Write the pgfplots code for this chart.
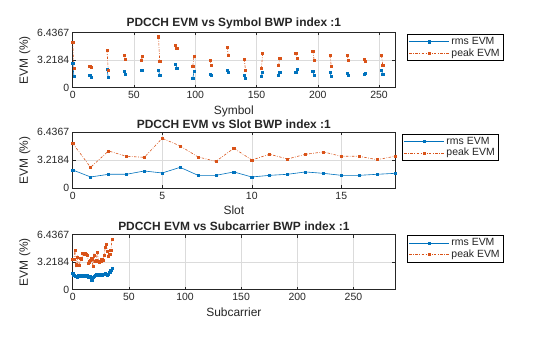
\documentclass[border=0pt]{standalone}
\usepackage{fontspec}
\setmainfont{Liberation Sans}
\usepackage{pgfplots}
\usepackage{pgfplotstable}
\pgfplotsset{compat=1.18}
\definecolor{mblue}{rgb}{0,0.447,0.741}
\definecolor{morange}{rgb}{0.85,0.325,0.098}
\definecolor{maxis}{rgb}{0.15,0.15,0.15}

\pgfplotstableread{
x rms peak
0 2.85 5.31
1 1.37 2.26
7 nan nan
14 1.48 2.54
15 1.25 2.38
21 nan nan
28 2.15 4.37
29 1.21 2.07
35 nan nan
42 1.95 3.82
43 1.56 3.32
49 nan nan
56 2.03 3.20
57 2.03 3.67
63 nan nan
70 2.03 5.93
71 1.44 3.08
77 nan nan
84 2.77 4.99
85 2.30 4.60
91 nan nan
98 1.09 2.54
99 1.91 3.67
105 nan nan
112 1.56 3.20
113 1.44 2.61
119 nan nan
126 2.03 4.72
127 1.83 3.78
133 nan nan
140 1.44 3.32
141 1.05 2.03
147 nan nan
154 1.37 2.26
155 1.83 4.02
161 nan nan
168 1.40 2.61
169 1.79 3.43
175 nan nan
182 1.79 4.02
183 2.15 3.43
189 nan nan
196 1.91 4.29
197 1.40 3.20
203 nan nan
210 1.79 3.74
211 1.29 2.50
217 nan nan
224 1.68 3.74
225 1.48 3.20
231 nan nan
238 1.52 3.32
239 1.64 3.08
245 nan nan
252 2.03 3.74
253 1.56 2.61
}\symboldata

\pgfplotstableread{
x rms peak
0 2.11 5.17
1 1.30 2.41
2 1.61 4.29
3 1.61 3.68
4 1.99 3.56
5 1.76 5.75
6 2.41 4.87
7 1.49 3.60
8 1.49 3.10
9 1.88 4.60
10 1.30 3.26
11 1.49 3.91
12 1.61 3.37
13 1.88 3.91
14 1.72 4.18
15 1.49 3.68
16 1.49 3.68
17 1.61 3.29
18 1.72 3.68
}\slotdata

\pgfplotstableread{
x rms peak
0 1.90 3.55
1 1.70 3.50
2 1.55 4.60
3 1.60 2.90
4 1.50 3.80
5 1.62 2.88
6 1.55 2.85
7 1.72 3.70
8 1.65 3.60
9 1.58 4.25
10 1.70 4.10
11 1.62 4.20
12 1.55 4.15
13 1.66 4.05
14 1.48 3.10
15 1.60 3.25
16 1.52 3.40
17 1.15 3.60
18 1.45 2.75
19 1.55 4.05
20 1.68 3.30
21 1.78 3.45
22 1.70 4.40
23 1.74 3.30
24 1.66 3.25
25 1.78 3.35
26 1.70 3.55
27 1.82 3.40
28 1.75 4.00
29 1.86 4.95
30 1.80 5.25
31 1.70 4.50
32 1.78 3.85
33 2.05 4.10
34 2.25 4.60
35 2.45 5.90
}\subdata

\pgfplotsset{
  evmax/.style={
    scale only axis, width=322.3bp, height=55.2bp,
    anchor=south west,
    xmin=0, ymin=0, ymax=6.4367,
    ytick={0,3.2184,6.4367}, yticklabels={0,3.2184,6.4367},
    grid=major, major grid style={color=black!14, line width=0.5bp},
    tick align=inside, major tick length=3bp,
    axis line style={color=maxis, line width=0.5bp},
    every tick/.style={color=maxis, line width=0.5bp},
    tick label style={font=\fontsize{10.5}{12}\selectfont, text=maxis},
    label style={font=\fontsize{12}{14}\selectfont, text=maxis},
    title style={font=\bfseries\fontsize{12}{14}\selectfont, text=maxis, yshift=-6bp},
    ylabel={EVM (\%)},
    /pgf/number format/assume math mode=true,
    legend cell align=left,
    legend style={draw=black, line width=0.5bp, fill=white,
      font=\fontsize{10.5}{11}\selectfont, text=maxis,
      inner xsep=2bp, inner ysep=1bp, row sep=-1.5bp, anchor=north west},
    legend image code/.code={\draw[mark repeat=2,mark phase=2,##1] plot coordinates {(0bp,0bp) (20bp,0bp) (40bp,0bp)};},
  },
  rmsstyle/.style={color=mblue, line width=0.6bp, mark=square*, mark size=1.1bp, mark options={solid}},
  peakstyle/.style={color=morange, line width=0.6bp, dash pattern=on 2.5bp off 1.5bp on 0.7bp off 1.5bp, mark=square*, mark size=1.1bp, mark options={solid}},
}

\begin{document}
\begin{tikzpicture}
\path[use as bounding box] (0,0) rectangle (560bp,337bp);

\begin{axis}[evmax, at={(72.7bp,249.3bp)}, xmax=263,
  xtick={0,50,100,150,200,250},
  title={PDCCH EVM vs Symbol BWP index :1}, xlabel={Symbol},
  unbounded coords=jump,
  legend style={at={(1.036,0.97)}}]
\addplot[rmsstyle] table[x=x,y=rms] {\symboldata};
\addlegendentry{rms EVM}
\addplot[peakstyle] table[x=x,y=peak] {\symboldata};
\addlegendentry{peak EVM}
\end{axis}

\begin{axis}[evmax, at={(72.7bp,148.7bp)}, xmax=18, height=56bp,
  xtick={0,5,10,15},
  title={PDCCH EVM vs Slot BWP index :1}, xlabel={Slot},
  legend style={at={(1.0206,0.97)}}]
\addplot[rmsstyle] table[x=x,y=rms] {\slotdata};
\addlegendentry{rms EVM}
\addplot[peakstyle] table[x=x,y=peak] {\slotdata};
\addlegendentry{peak EVM}
\end{axis}

\begin{axis}[evmax, at={(72.7bp,47.3bp)}, xmax=287,
  xtick={0,50,100,150,200,250},
  title={PDCCH EVM vs Subcarrier BWP index :1}, xlabel={Subcarrier},
  legend style={at={(1.036,0.982)}}]
\addplot[rmsstyle] table[x=x,y=rms] {\subdata};
\addlegendentry{rms EVM}
\addplot[peakstyle] table[x=x,y=peak] {\subdata};
\addlegendentry{peak EVM}
\end{axis}
\end{tikzpicture}
\end{document}
